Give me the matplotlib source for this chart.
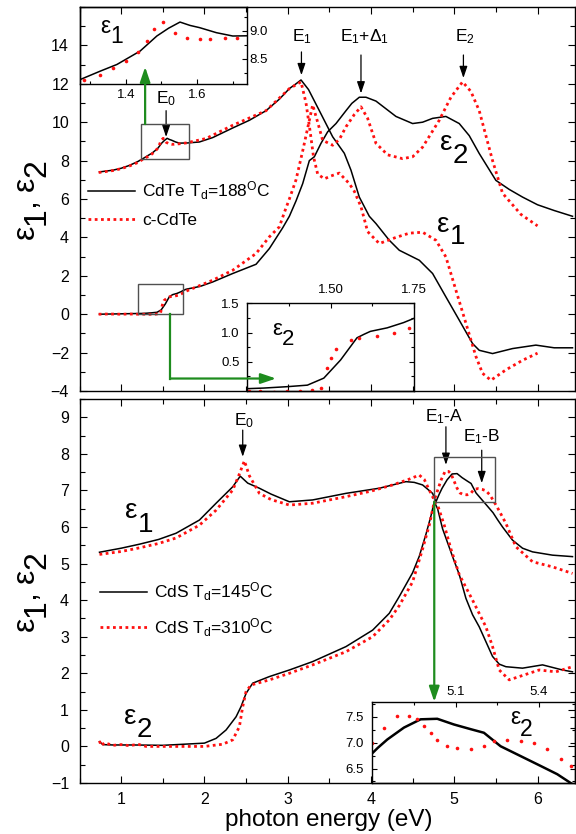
import numpy as np
import matplotlib
matplotlib.use("Agg")
import matplotlib.pyplot as plt
from matplotlib.ticker import MultipleLocator, FixedLocator, FormatStrFormatter
from matplotlib.patches import Rectangle, FancyArrowPatch
from matplotlib.lines import Line2D
from matplotlib.font_manager import FontProperties

# ---------------- data: CdTe (top panel) ----------------
cdte188_e1_E = [0.74, 0.9, 1.0, 1.1, 1.2, 1.272, 1.328, 1.375, 1.44, 1.487, 1.52, 1.552, 1.58, 1.607, 1.654,
                1.70, 1.8, 1.94, 2.1, 2.34, 2.54, 2.74, 2.9, 3.02, 3.1, 3.16, 3.25, 3.38, 3.54, 3.68, 3.76,
                3.86, 3.98, 4.06, 4.22, 4.34, 4.58, 4.74, 4.9, 5.06, 5.22, 5.3, 5.46, 5.7, 5.98, 6.2, 6.42]
cdte188_e1 = [7.41, 7.5, 7.6, 7.75, 7.95, 8.13, 8.28, 8.40, 8.64, 8.91, 9.05, 9.16, 9.1, 9.06, 8.97,
              8.91, 8.92, 8.97, 9.2, 9.7, 10.1, 10.6, 11.2, 11.75, 12.0, 12.2, 11.7, 10.6, 9.24, 8.38, 7.5,
              6.1, 5.1, 4.72, 3.85, 3.33, 2.81, 2.12, 0.9, -0.31, -1.53, -1.88, -2.05, -1.79, -1.61, -1.75, -1.75]

ccdte_e1_E = [0.73, 0.9, 1.0, 1.1, 1.2, 1.282, 1.328, 1.365, 1.401, 1.435, 1.459, 1.479, 1.505, 1.538, 1.573,
              1.607, 1.636, 1.677, 1.712, 1.78, 2.02, 2.34, 2.74, 3.02, 3.16, 3.22, 3.27, 3.31, 3.36, 3.44,
              3.52, 3.62, 3.74, 3.8, 3.88, 3.96, 4.1, 4.3, 4.46, 4.62, 4.78, 4.9, 5.02, 5.14, 5.26, 5.34,
              5.44, 5.62, 5.82, 6.0]
ccdte_e1 = [7.38, 7.48, 7.58, 7.72, 7.9, 8.13, 8.22, 8.33, 8.46, 8.62, 8.82, 9.04, 9.16, 8.96, 8.88,
            8.85, 8.85, 8.87, 8.88, 8.92, 9.15, 9.84, 10.6, 11.75, 12.1, 11.0, 9.5, 8.2, 7.3, 7.05,
            7.2, 7.35, 6.8, 6.4, 5.6, 4.3, 3.68, 4.0, 4.22, 4.27, 3.85, 2.98, 1.25, -0.47, -2.2, -3.08,
            -3.44, -2.9, -2.4, -2.03]

cdte188_e2_E = [0.74, 1.0, 1.252, 1.30, 1.371, 1.431, 1.48, 1.53, 1.579, 1.60, 1.619, 1.669, 1.718, 1.748,
                1.78, 1.95, 2.1, 2.34, 2.62, 2.78, 2.94, 3.02, 3.1, 3.18, 3.26, 3.32, 3.4, 3.48, 3.58, 3.7,
                3.77, 3.86, 3.94, 4.06, 4.18, 4.3, 4.5, 4.62, 4.74, 4.9, 5.06, 5.18, 5.3, 5.5, 5.66, 5.82,
                6.0, 6.2, 6.42]
cdte188_e2 = [0.0, 0.02, 0.04, 0.05, 0.074, 0.10, 0.22, 0.53, 0.91, 0.97, 1.02, 1.08, 1.17, 1.24,
              1.3, 1.45, 1.68, 2.12, 2.6, 3.42, 4.5, 5.1, 5.9, 6.8, 8.0, 8.2, 8.9, 9.5, 9.93, 10.6,
              10.98, 11.3, 11.3, 11.1, 10.7, 10.3, 9.93, 10.0, 10.2, 10.3, 9.93, 9.3, 8.37, 6.97, 6.5, 6.1,
              5.7, 5.4, 5.1]

ccdte_e2_E = [0.73, 0.85, 1.0, 1.1, 1.2, 1.257, 1.29, 1.33, 1.37, 1.41, 1.444, 1.472, 1.49, 1.50, 1.515,
              1.56, 1.585, 1.639, 1.689, 1.733, 1.78, 2.1, 2.34, 2.62, 2.78, 2.9, 2.96, 3.02, 3.1, 3.18,
              3.26, 3.3, 3.36, 3.42, 3.54, 3.62, 3.7, 3.8, 3.88, 3.96, 4.06, 4.2, 4.38, 4.5, 4.62, 4.82,
              4.96, 5.1, 5.2, 5.3, 5.46, 5.58, 5.8, 6.0]
ccdte_e2 = [0.0, 0.01, 0.0, 0.01, 0.0, 0.0, 0.0, -0.01, 0.0, 0.0, 0.02, 0.05, 0.39, 0.56, 0.71,
            0.87, 0.91, 0.94, 0.99, 1.08, 1.2, 1.77, 2.29, 3.16, 4.03, 4.55, 5.3, 6.0, 7.0, 8.5,
            10.1, 10.9, 10.0, 9.06, 8.8, 9.1, 9.76, 10.4, 10.8, 10.2, 8.9, 8.3, 8.1, 8.2, 8.7, 10.1,
            11.3, 12.1, 11.6, 10.6, 8.0, 6.3, 5.2, 4.6]

# ---------------- data: CdS (bottom panel) ----------------
cds145_e1_E = [0.74, 1.0, 1.22, 1.45, 1.66, 1.94, 2.14, 2.34, 2.43, 2.52, 2.66, 2.8, 3.02, 3.3, 3.7, 4.1,
               4.42, 4.52, 4.62, 4.74, 4.78, 4.82, 4.854, 4.914, 4.974, 5.034, 5.094, 5.154, 5.202, 5.262,
               5.334, 5.406, 5.466, 5.52, 5.58, 5.7, 5.82, 5.94, 6.18, 6.42]
cds145_e1 = [5.31, 5.42, 5.53, 5.66, 5.83, 6.19, 6.65, 7.1, 7.39, 7.2, 7.06, 6.9, 6.69, 6.74, 6.92, 7.06,
             7.24, 7.22, 7.15, 6.92, 6.69, 6.9, 7.06, 7.29, 7.45, 7.46, 7.35, 7.26, 7.19, 6.93,
             6.74, 6.55, 6.39, 6.2, 6.0, 5.64, 5.42, 5.32, 5.23, 5.19]

cds310_e1_E = [0.74, 1.0, 1.22, 1.45, 1.66, 1.94, 2.14, 2.34, 2.42, 2.48, 2.54, 2.66, 2.8, 3.02, 3.3, 3.7,
               4.0, 4.26, 4.45, 4.58, 4.64, 4.7, 4.76, 4.8, 4.843, 4.89, 4.932, 4.962, 4.986, 5.01, 5.034,
               5.07, 5.106, 5.154, 5.202, 5.238, 5.286, 5.334, 5.382, 5.43, 5.478, 5.514, 5.62, 5.74,
               5.94, 6.18, 6.42]
cds310_e1 = [5.25, 5.33, 5.43, 5.55, 5.7, 6.05, 6.46, 7.01, 7.45, 7.81, 7.4, 6.92, 6.75, 6.60, 6.65, 6.83,
             6.98, 7.15, 7.3, 7.42, 7.3, 7.01, 6.74, 7.0, 7.29, 7.52, 7.52, 7.45, 7.32, 7.19, 7.06,
             6.93, 6.89, 6.88, 6.93, 7.03, 7.05, 7.03, 6.99, 6.87, 6.69, 6.55, 6.1, 5.46,
             5.05, 4.91, 4.73]

cds145_e2_E = [0.74, 0.78, 0.9, 1.14, 1.5, 2.0, 2.14, 2.26, 2.38, 2.44, 2.5, 2.58, 2.78, 3.02, 3.3, 3.7,
               4.02, 4.22, 4.34, 4.5, 4.58, 4.66, 4.72, 4.76, 4.8, 4.86, 4.98, 5.06, 5.14, 5.22, 5.3,
               5.46, 5.54, 5.62, 5.82, 6.06, 6.3, 6.42]
cds145_e2 = [0.13, 0.05, 0.04, 0.04, 0.03, 0.09, 0.22, 0.45, 0.81, 1.09, 1.45, 1.73, 1.91, 2.09, 2.32, 2.73,
             3.18, 3.64, 4.1, 4.75, 5.2, 5.8, 6.3, 6.69, 6.5, 5.95, 5.19, 4.7, 4.05, 3.6, 3.27,
             2.46, 2.25, 2.18, 2.14, 2.23, 2.09, 2.04]

cds310_e2_E = [0.74, 0.76, 0.8, 0.9, 1.0, 1.1, 1.2, 1.3, 1.6, 2.0, 2.22, 2.34, 2.42, 2.46, 2.5, 2.56, 2.78,
               3.02, 3.3, 3.7, 4.02, 4.22, 4.34, 4.5, 4.62, 4.7, 4.76, 4.8, 4.88, 4.96, 5.06, 5.22, 5.38,
               5.46, 5.54, 5.66, 5.78, 6.02, 6.22, 6.42]
cds310_e2 = [0.15, 0.02, 0.1, 0.03, 0.05, 0.02, 0.06, 0.0, 0.0, 0.0, 0.06, 0.18, 0.54, 1.09, 1.5, 1.68, 1.82,
             2.0, 2.23, 2.59, 3.0, 3.46, 3.85, 4.5, 5.4, 6.05, 6.69, 6.6, 6.05, 5.4, 4.7, 4.0, 3.27,
             2.73, 2.09, 1.82, 1.91, 2.09, 2.04, 2.18]

x_ticks = [1, 2, 3, 4, 5, 6]
top_yticks = [-4, -2, 0, 2, 4, 6, 8, 10, 12, 14]
bot_yticks = [-1, 0, 1, 2, 3, 4, 5, 6, 7, 8, 9]
legend_top = ['CdTe T$_d$=188$^O$C', 'c-CdTe']
legend_bot = ['CdS T$_d$=145$^O$C', 'CdS T$_d$=310$^O$C']

# ---------------- style ----------------
plt.rcParams.update({
    'font.family': ['Liberation Sans', 'DejaVu Sans'],
    'mathtext.fontset': 'custom',
    'mathtext.rm': 'Liberation Sans',
    'mathtext.it': 'Liberation Sans:italic',
    'mathtext.bf': 'Liberation Sans:bold',
    'mathtext.default': 'regular',
    'axes.linewidth': 1.0,
})
RED = '#ff1010'
GREEN = '#1e8c1e'
GRAY = '#505050'
DOT = (0, (1.0, 1.25))
W, H = 576, 834
fig = plt.figure(figsize=(W / 100, H / 100), dpi=100)
renderer = fig.canvas.get_renderer()


def px_axes(l, t, r, b, **kw):
    return fig.add_axes([l / W, 1 - b / H, (r - l) / W, (b - t) / H], **kw)


def style_main(ax, labelbottom):
    ax.tick_params(which='both', direction='in', top=True, right=True, width=0.8)
    ax.tick_params(which='major', length=5, labelsize=11.5)
    ax.tick_params(which='minor', length=3.5)
    ax.tick_params(axis='y', pad=7.5)
    ax.tick_params(axis='x', pad=6.8, labelbottom=labelbottom)
    ax.xaxis.set_major_locator(FixedLocator(x_ticks))
    ax.xaxis.set_minor_locator(MultipleLocator(0.5))


def seq_text(x_img, y_img, pieces, fs, rot=0, center=False):
    prop = FontProperties(family='Liberation Sans', size=fs)
    ang = np.radians(rot)
    ux, uy = np.cos(ang), np.sin(ang)
    dx, dy = np.sin(ang), -np.cos(ang)
    widths = [renderer.get_text_width_height_descent(s, prop, ismath=False)[0] + g for s, _, g in pieces]
    X0, Y0 = x_img, H - y_img
    if center:
        tot = sum(widths)
        X0 -= ux * tot / 2
        Y0 -= uy * tot / 2
    pos = 0.0
    for (s, down, g), w in zip(pieces, widths):
        X = X0 + ux * pos + dx * down
        Y = Y0 + uy * pos + dy * down
        fig.text(X / W, Y / H, s, fontproperties=prop, rotation=rot,
                 rotation_mode='anchor', ha='left', va='baseline')
        pos += w


def eps(x_img, y_img, digit, fs, shift):
    seq_text(x_img, y_img, [('ε', 0, 0), (digit, shift, 0)], fs)


def karrow(ax, x, y0, y1):
    ax.annotate('', xy=(x, y1), xytext=(x, y0),
                arrowprops=dict(arrowstyle='-|>,head_length=0.5,head_width=0.17', color='k',
                                lw=0.9, mutation_scale=14, shrinkA=0, shrinkB=0))


def garrow(ax, pts):
    xs = [p[0] for p in pts]
    ys = [p[1] for p in pts]
    if len(pts) > 2:
        ln = Line2D(xs[:-1], ys[:-1], color=GREEN, lw=1.6, transform=ax.transData, zorder=10)
        fig.add_artist(ln)
    arr = FancyArrowPatch(pts[-2], pts[-1], transform=ax.transData,
                          arrowstyle='-|>,head_length=0.65,head_width=0.22', mutation_scale=14,
                          color=GREEN, lw=1.6, shrinkA=0, shrinkB=0, zorder=10)
    fig.add_artist(arr)


# ================= top panel =================
ax1 = px_axes(79.5, 7, 575, 391)
ax1.plot(cdte188_e1_E, cdte188_e1, color='k', lw=1.1, zorder=2, label=legend_top[0])
ax1.plot(ccdte_e1_E, ccdte_e1, color=RED, lw=2.0, ls=DOT, zorder=3, label=legend_top[1])
ax1.plot(cdte188_e2_E, cdte188_e2, color='k', lw=1.1, zorder=2)
ax1.plot(ccdte_e2_E, ccdte_e2, color=RED, lw=2.0, ls=DOT, zorder=3)
ax1.set_xlim(0.5, 6.45)
ax1.set_ylim(-4, 16)
style_main(ax1, False)
ax1.yaxis.set_major_locator(FixedLocator(top_yticks))
ax1.yaxis.set_minor_locator(MultipleLocator(1))
ax1.legend(loc='center left', bbox_to_anchor=(0.0172, 0.488), frameon=False, fontsize=12.5,
           handlelength=2.7, handletextpad=0.4, labelspacing=0.6, borderpad=0, borderaxespad=0)

ax1.add_patch(Rectangle((1.24, 8.1), 0.57, 1.8, fill=False, ec=GRAY, lw=1.0, zorder=5))
ax1.add_patch(Rectangle((1.20, 0.0), 0.54, 1.56, fill=False, ec=GRAY, lw=1.0, zorder=5))

ax1.text(1.54, 10.97, 'E$_0$', fontsize=12.5, ha='center', va='baseline')
karrow(ax1, 1.54, 10.6, 9.23)
ax1.text(3.17, 14.23, 'E$_1$', fontsize=12.5, ha='center', va='baseline')
karrow(ax1, 3.165, 13.66, 12.45)
ax1.text(3.92, 14.23, 'E$_1$+Δ$_1$', fontsize=12.5, ha='center', va='baseline')
karrow(ax1, 3.88, 13.5, 11.5)
ax1.text(5.13, 14.23, 'E$_2$', fontsize=12.5, ha='center', va='baseline')
karrow(ax1, 5.11, 13.5, 12.3)

# inset: eps1 near E0
ins1 = px_axes(79.5, 7, 247, 84)
ins1.patch.set_alpha(0)
ins1.plot(cdte188_e1_E, cdte188_e1, color='k', lw=1.1)
ins1.plot(ccdte_e1_E, ccdte_e1, ls='none', marker='o', ms=2.6, color=RED, mec='none')
ins1.set_xlim(1.27, 1.74)
ins1.set_ylim(8.05, 9.43)
ins1.xaxis.set_major_locator(MultipleLocator(0.2))
ins1.xaxis.set_minor_locator(MultipleLocator(0.1))
ins1.yaxis.set_major_locator(MultipleLocator(0.5))
ins1.yaxis.set_minor_locator(MultipleLocator(0.25))
ins1.xaxis.set_major_formatter(FormatStrFormatter('%.1f'))
ins1.yaxis.set_major_formatter(FormatStrFormatter('%.1f'))
ins1.tick_params(which='both', direction='in', labelsize=9.5, width=0.8, left=False, top=False,
                 right=True, bottom=True, labelleft=False, labelright=True)
ins1.tick_params(which='major', length=3.5)
ins1.tick_params(which='minor', length=2.5)
ins1.tick_params(axis='x', pad=3.5)
ins1.tick_params(axis='y', pad=1.5)

# inset: eps2 near absorption edge
ins2 = px_axes(246.7, 303.3, 414.3, 391)
ins2.patch.set_alpha(0)
ins2.plot(cdte188_e2_E, cdte188_e2, color='k', lw=1.1)
ins2.plot(ccdte_e2_E, ccdte_e2, ls='none', marker='o', ms=2.6, color=RED, mec='none')
ins2.set_xlim(1.25, 1.75)
ins2.set_ylim(0, 1.5)
ins2.xaxis.set_major_locator(FixedLocator([1.5, 1.75]))
ins2.xaxis.set_minor_locator(FixedLocator([1.375, 1.625]))
ins2.yaxis.set_major_locator(FixedLocator([0.5, 1.0, 1.5]))
ins2.yaxis.set_minor_locator(FixedLocator([0.25, 0.75, 1.25]))
ins2.xaxis.set_major_formatter(FormatStrFormatter('%.2f'))
ins2.yaxis.set_major_formatter(FormatStrFormatter('%.1f'))
ins2.tick_params(which='both', direction='in', labelsize=9.5, width=0.8, top=True, right=True,
                 bottom=False, labeltop=True, labelbottom=False)
ins2.tick_params(which='major', length=3.5)
ins2.tick_params(which='minor', length=2.5)
ins2.tick_params(axis='x', pad=5)
ins2.tick_params(axis='y', pad=5)

garrow(ax1, [(1.288, 9.9), (1.288, 12.88)])
garrow(ax1, [(1.59, 0.0), (1.59, -3.35), (2.86, -3.35)])

# ================= bottom panel =================
ax2 = px_axes(79.5, 399, 575, 783)
ax2.plot(cds145_e1_E, cds145_e1, color='k', lw=1.1, zorder=2, label=legend_bot[0])
ax2.plot(cds310_e1_E, cds310_e1, color=RED, lw=2.0, ls=DOT, zorder=3, label=legend_bot[1])
ax2.plot(cds145_e2_E, cds145_e2, color='k', lw=1.1, zorder=2)
ax2.plot(cds310_e2_E, cds310_e2, color=RED, lw=2.0, ls=DOT, zorder=3)
ax2.set_xlim(0.5, 6.45)
ax2.set_ylim(-1, 9.5)
style_main(ax2, True)
ax2.yaxis.set_major_locator(FixedLocator(bot_yticks))
ax2.yaxis.set_minor_locator(MultipleLocator(0.5))
ax2.xaxis.set_major_formatter(FormatStrFormatter('%d'))
ax2.legend(loc='center left', bbox_to_anchor=(0.0414, 0.452), frameon=False, fontsize=12.5,
           handlelength=2.7, handletextpad=0.4, labelspacing=0.75, borderpad=0, borderaxespad=0)

ax2.add_patch(Rectangle((4.76, 6.69), 0.73, 1.23, fill=False, ec=GRAY, lw=1.0, zorder=5))
ax2.text(2.48, 8.79, 'E$_0$', fontsize=12.5, ha='center', va='baseline')
karrow(ax2, 2.46, 8.65, 7.92)
ax2.text(4.88, 8.88, 'E$_1$-A', fontsize=12.5, ha='center', va='baseline')
karrow(ax2, 4.90, 8.74, 7.70)
ax2.text(5.33, 8.33, 'E$_1$-B', fontsize=12.5, ha='center', va='baseline')
karrow(ax2, 5.33, 8.1, 7.2)

ins3 = px_axes(372.3, 701.7, 575, 783)
ins3.patch.set_alpha(0)
ins3.plot(cds145_e1_E, cds145_e1, color='k', lw=1.8)
ins3.plot(cds310_e1_E, cds310_e1, ls='none', marker='o', ms=2.6, color=RED, mec='none')
ins3.set_xlim(4.8, 5.53)
ins3.set_ylim(6.22, 7.79)
ins3.xaxis.set_major_locator(FixedLocator([5.1, 5.4]))
ins3.xaxis.set_minor_locator(FixedLocator([4.95, 5.25]))
ins3.yaxis.set_major_locator(FixedLocator([6.5, 7.0, 7.5]))
ins3.yaxis.set_minor_locator(FixedLocator([6.25, 6.75, 7.25, 7.75]))
ins3.xaxis.set_major_formatter(FormatStrFormatter('%.1f'))
ins3.yaxis.set_major_formatter(FormatStrFormatter('%.1f'))
ins3.tick_params(which='both', direction='in', labelsize=9.5, width=0.8, top=True, right=True,
                 bottom=False, labeltop=True, labelbottom=False)
ins3.tick_params(which='major', length=3.5)
ins3.tick_params(which='minor', length=2.5)
ins3.tick_params(axis='x', pad=3)
ins3.tick_params(axis='y', pad=6)

garrow(ax2, [(4.76, 6.69), (4.76, 1.22)])

# ================= text labels =================
eps(440, 150, '2', 20, 13)
eps(437, 232, '1', 20, 12)
eps(100, 33, '1', 16.5, 10)
eps(272, 335, '2', 16, 10)
eps(125, 518, '1', 20, 14)
eps(124, 724, '2', 20, 13)
eps(510, 724, '2', 16.5, 12)

ylab = [('ε', 0, 0), ('1', 11, 0), (',', 0, 7), ('ε', 0, 0), ('2', 11, 0)]
seq_text(34, 199, ylab, 23, rot=90, center=True)
seq_text(34, 591, ylab, 23, rot=90, center=True)

fig.text(329 / W, 1 - 826 / H, 'photon energy (eV)', fontsize=17.5, ha='center', va='baseline')

fig.savefig('out.png', dpi=100)
